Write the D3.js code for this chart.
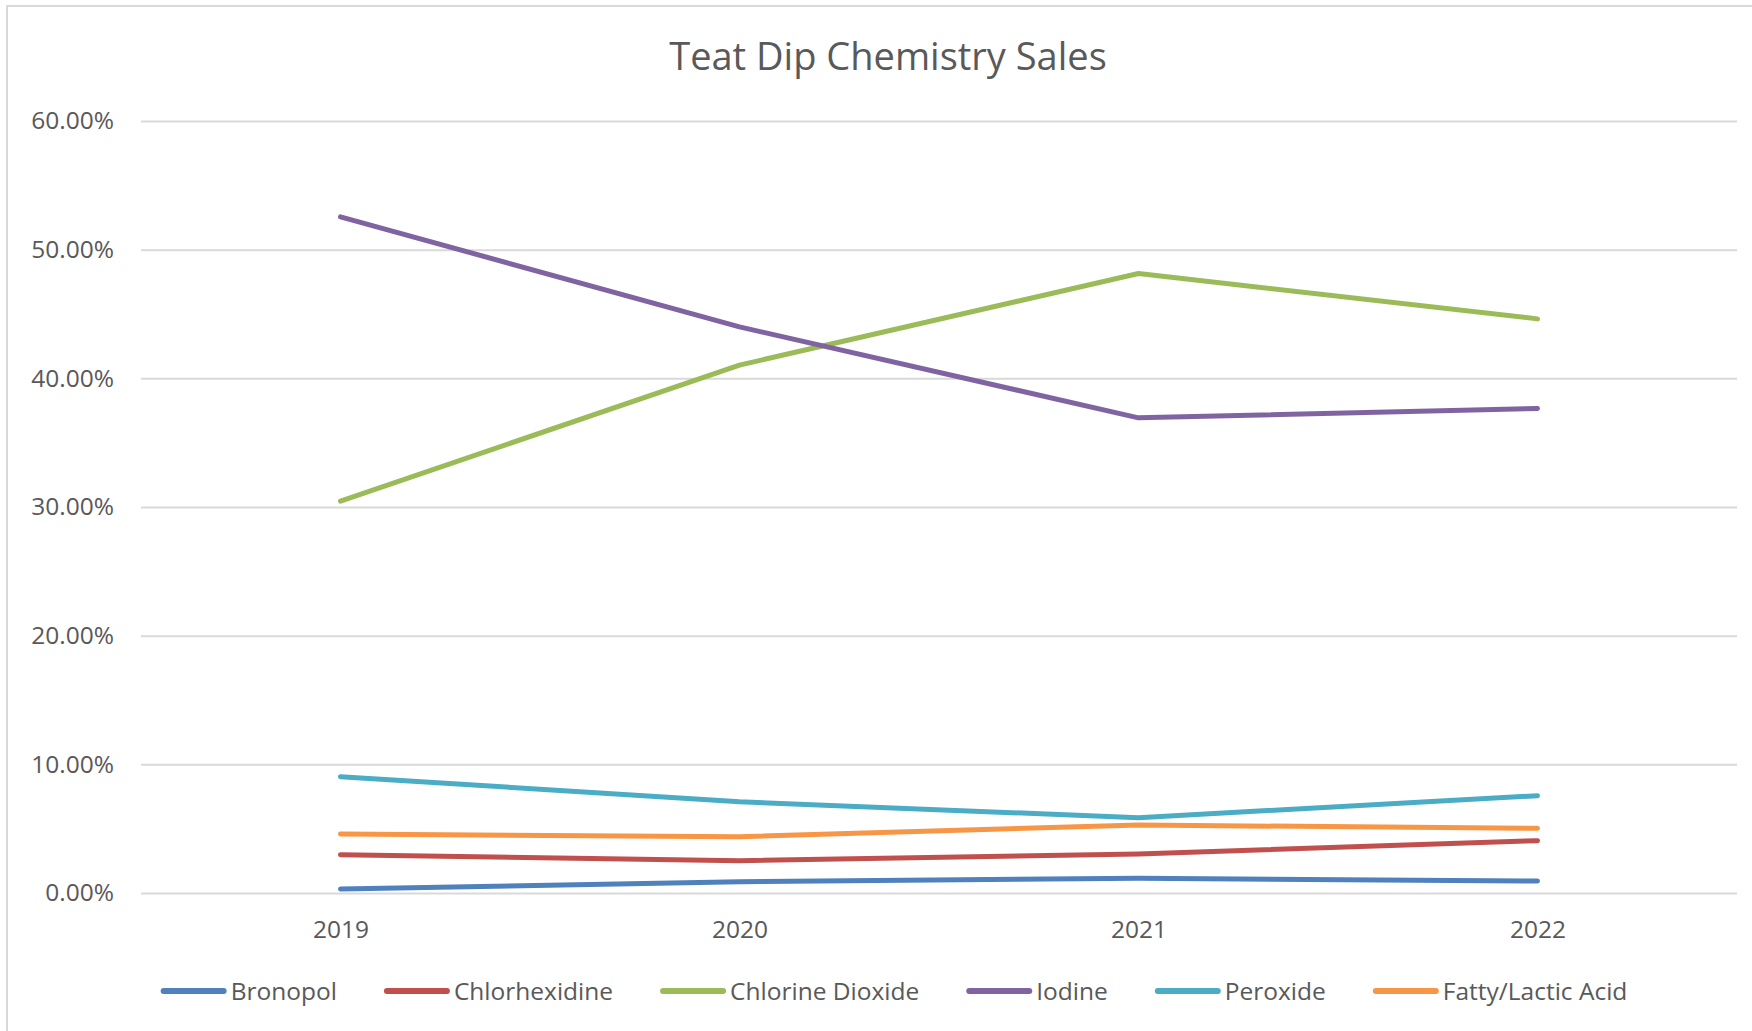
<!DOCTYPE html>
<html>
<head>
<meta charset="utf-8">
<script src="https://cdn.jsdelivr.net/npm/d3@7"></script>
<style>
  html, body { margin: 0; padding: 0; background: #fff; }
  svg { display: block; font-family: "Open Sans", "Noto Sans", sans-serif; }
</style>
</head>
<body>
<div id="chart"></div>
<script>
// chart data
const years = ["2019", "2020", "2021", "2022"]
const bronopol = [0.31, 0.88, 1.14, 0.93]
const chlorhexidine = [2.98, 2.51, 3.03, 4.07]
const chlorineDioxide = [30.46, 41.03, 48.15, 44.62]
const iodine = [52.55, 44.0, 36.93, 37.66]
const peroxide = [9.04, 7.09, 5.85, 7.56]
const fattyLactic = [4.58, 4.38, 5.28, 5.03]
const yTicks = [0, 10, 20, 30, 40, 50, 60]

const series = [
    { name: "Bronopol", values: bronopol, color: "#4F81BD" },
    { name: "Chlorhexidine", values: chlorhexidine, color: "#C0504D" },
    { name: "Chlorine Dioxide", values: chlorineDioxide, color: "#9BBB59" },
    { name: "Iodine", values: iodine, color: "#8064A2" },
    { name: "Peroxide", values: peroxide, color: "#4BACC6" },
    { name: "Fatty/Lactic Acid", values: fattyLactic, color: "#F79646" }
]

const W = 1752, H = 1031
const margin = { top: 121, right: 15, bottom: 138, left: 141 },
    width = W - margin.left - margin.right,
    height = H - margin.top - margin.bottom

const svg = d3.select("#chart")
    .append("svg")
    .attr("width", W)
    .attr("height", H)

// outer chart border (cropped at right / bottom)
svg.append("rect")
    .attr("x", 7).attr("y", 6)
    .attr("width", W + 20).attr("height", H + 20)
    .attr("fill", "none")
    .attr("stroke", "#d9d9d9")
    .attr("stroke-width", 2)

svg.append("text")
    .attr("x", 888)
    .attr("y", 70)
    .attr("text-anchor", "middle")
    .attr("fill", "#595959")
    .style("font-size", "38px")
    .text("Teat Dip Chemistry Sales")

const g = svg.append("g")
    .attr("transform", "translate(" + margin.left + "," + margin.top + ")")

const x = d3.scalePoint()
    .domain(years)
    .range([0, width])
    .padding(0.5)

const y = d3.scaleLinear()
    .domain([0, 60])
    .range([height, 0])

// gridlines + y labels
const yAxis = g.append("g")
    .call(d3.axisLeft(y).tickValues(yTicks).tickSize(-width).tickPadding(27)
        .tickFormat(d => d.toFixed(2) + "%"))
yAxis.select(".domain").remove()
yAxis.selectAll(".tick line").attr("stroke", "#d9d9d9").attr("stroke-width", 2)
yAxis.selectAll(".tick text")
    .attr("fill", "#595959")
    .style("font-size", "24.5px")
    .style("font-family", "'Open Sans', sans-serif")

// x labels
const xAxis = g.append("g")
    .attr("transform", "translate(0," + height + ")")
    .call(d3.axisBottom(x).tickSize(0).tickPadding(27.5))
xAxis.select(".domain").remove()
xAxis.selectAll(".tick text")
    .attr("fill", "#595959")
    .style("font-size", "24.5px")
    .style("font-family", "'Open Sans', sans-serif")

const line = d3.line()
    .x((d, i) => x(years[i]))
    .y(d => y(d))

g.selectAll(".series")
    .data(series)
    .enter().append("path")
    .attr("class", "series")
    .attr("fill", "none")
    .attr("stroke", d => d.color)
    .attr("stroke-width", 5)
    .attr("stroke-linecap", "round")
    .attr("stroke-linejoin", "round")
    .attr("d", d => line(d.values))

// legend
const legend = svg.append("g")
const swatch = 66, gapText = 4, gapItem = 47, legendY = 991
let cursor = 0
series.forEach(s => {
    const it = legend.append("g")
    it.append("line")
        .attr("x1", 3).attr("x2", swatch - 3)
        .attr("y1", 0).attr("y2", 0)
        .attr("stroke", s.color)
        .attr("stroke-width", 6)
        .attr("stroke-linecap", "round")
    const t = it.append("text")
        .attr("x", swatch + gapText)
        .attr("dy", "0.35em")
        .attr("fill", "#595959")
        .style("font-size", "24.5px")
        .text(s.name)
    const w = swatch + gapText + t.node().getComputedTextLength()
    it.attr("transform", "translate(" + cursor + "," + legendY + ")")
    cursor += w + gapItem
})
const total = cursor - gapItem
legend.attr("transform", "translate(" + (894 - total / 2) + ",0)")
</script>
</body>
</html>
